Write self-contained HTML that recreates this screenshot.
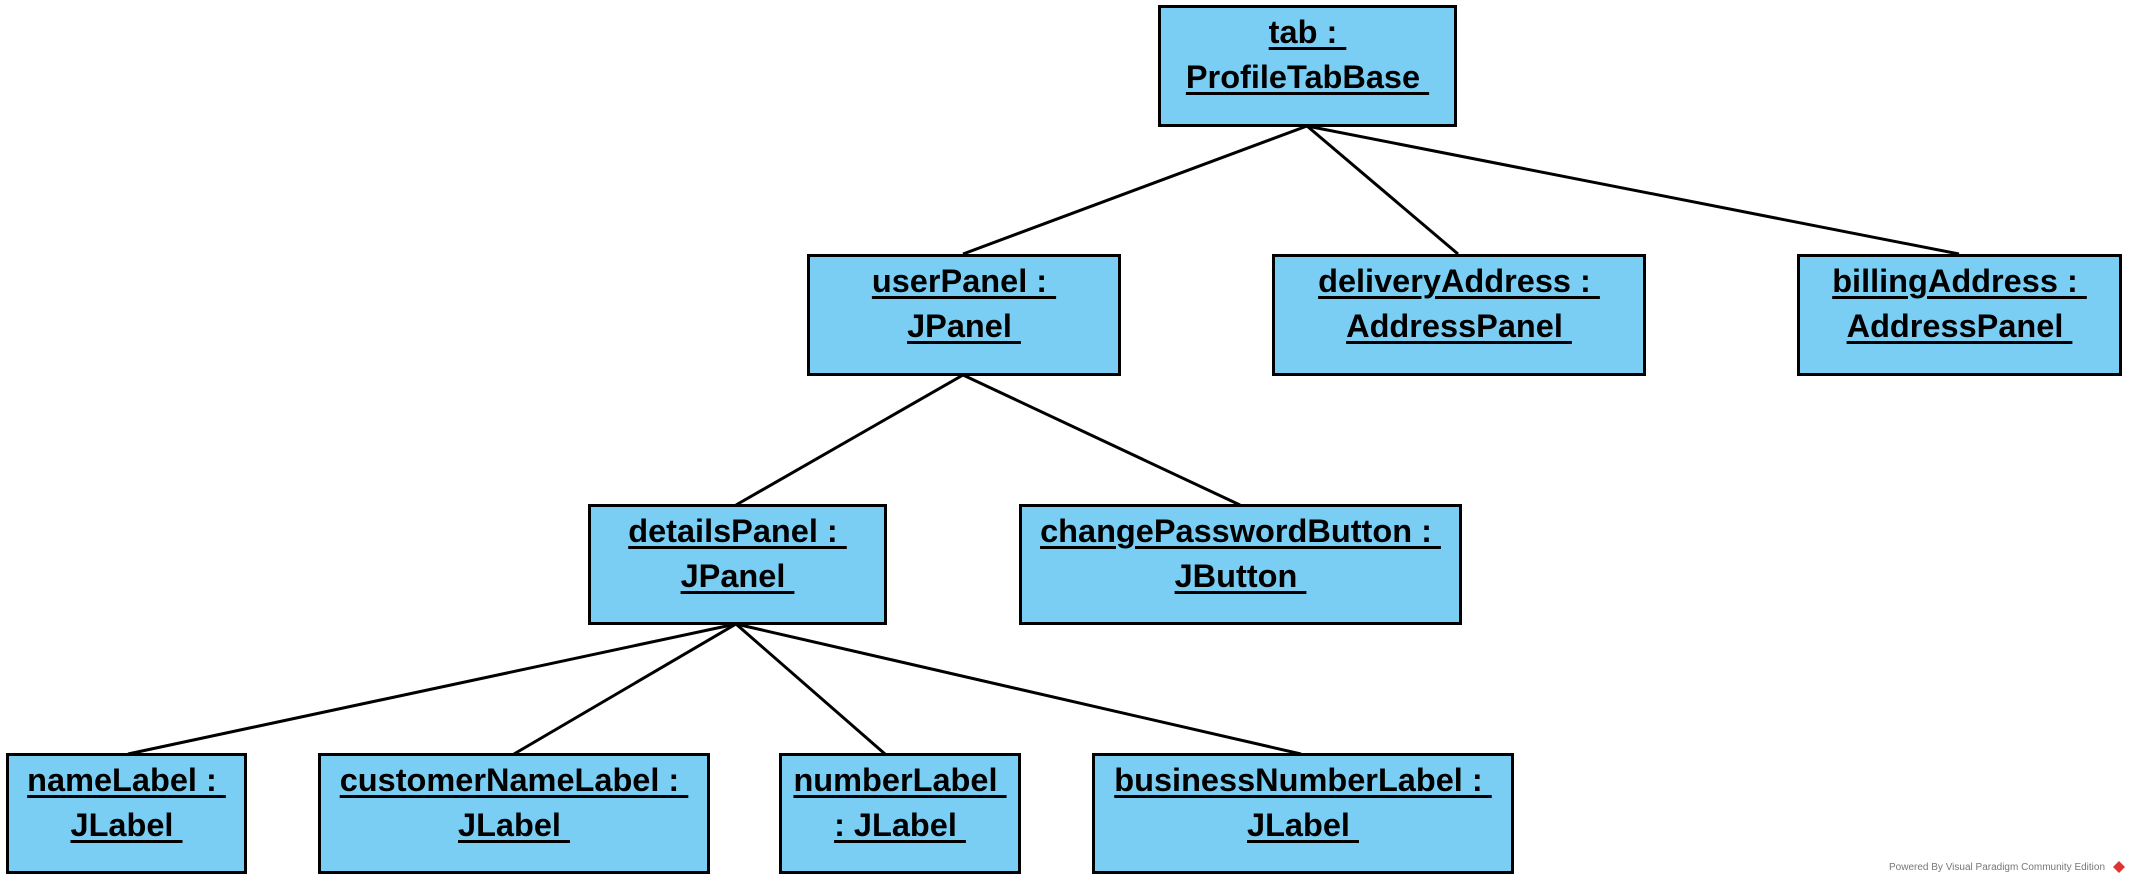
<!DOCTYPE html>
<html><head><meta charset="utf-8"><style>
body{margin:0;width:2133px;height:885px;background:#fff;position:relative;overflow:hidden;font-family:"Liberation Sans",sans-serif}
.b{position:absolute;box-sizing:border-box;background:#7acef4;border:3px solid #000;text-align:center;font-weight:bold;font-size:32.5px;letter-spacing:0;line-height:45px;padding-top:2px;color:#000;white-space:pre}
.b span{text-decoration:underline;text-decoration-thickness:3px;text-underline-offset:4px}
svg{position:absolute;left:0;top:0}
.f{position:absolute;left:1889px;top:862px;font-size:10px;color:#777;white-space:nowrap}
</style></head><body>
<svg width="2133" height="885"><g stroke="#000" stroke-width="3">
<line x1="1307" y1="126" x2="963" y2="254"/>
<line x1="1307" y1="126" x2="1458" y2="254"/>
<line x1="1307" y1="126" x2="1959" y2="254"/>
<line x1="963" y1="375" x2="736" y2="505"/>
<line x1="963" y1="375" x2="1240" y2="505"/>
<line x1="736" y1="624" x2="128" y2="754"/>
<line x1="736" y1="624" x2="514" y2="754"/>
<line x1="736" y1="624" x2="885" y2="754"/>
<line x1="736" y1="624" x2="1301" y2="754"/>
</g>
<g transform="translate(2119,868)"><path d="M0,-7 L6,-1 L0,5 L-6,-1Z" fill="#d33"/></g>
</svg>
<div class="b" style="left:1158px;top:5px;width:299px;height:122px"><span>tab : </span>
<span>ProfileTabBase </span></div>
<div class="b" style="left:807px;top:254px;width:314px;height:122px"><span>userPanel : </span>
<span>JPanel </span></div>
<div class="b" style="left:1272px;top:254px;width:374px;height:122px"><span>deliveryAddress : </span>
<span>AddressPanel </span></div>
<div class="b" style="left:1797px;top:254px;width:325px;height:122px"><span>billingAddress : </span>
<span>AddressPanel </span></div>
<div class="b" style="left:588px;top:504px;width:299px;height:121px"><span>detailsPanel : </span>
<span>JPanel </span></div>
<div class="b" style="left:1019px;top:504px;width:443px;height:121px"><span>changePasswordButton : </span>
<span>JButton </span></div>
<div class="b" style="left:6px;top:753px;width:241px;height:121px"><span>nameLabel : </span>
<span>JLabel </span></div>
<div class="b" style="left:318px;top:753px;width:392px;height:121px"><span>customerNameLabel : </span>
<span>JLabel </span></div>
<div class="b" style="left:779px;top:753px;width:242px;height:121px"><span>numberLabel </span>
<span>: JLabel </span></div>
<div class="b" style="left:1092px;top:753px;width:422px;height:121px"><span>businessNumberLabel : </span>
<span>JLabel </span></div>
<div class="f">Powered By Visual Paradigm Community Edition</div>
</body></html>
